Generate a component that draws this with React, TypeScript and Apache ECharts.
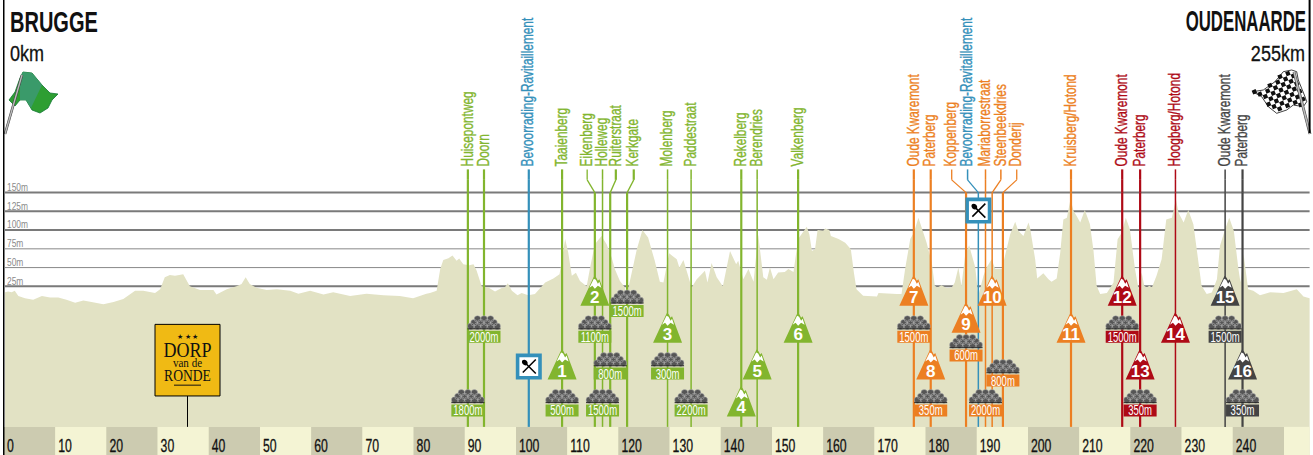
import { useEffect, useRef } from 'react';
import * as echarts from 'echarts';

const SANS = '"Liberation Sans",Arial,sans-serif';
const SERIF = '"Liberation Serif",serif';

// course profile: [km, metres]
const elevationProfile: [number, number][] = [
  [0.2, 17], [0.8, 18], [1.5, 17], [2.1, 19], [2.8, 12], [4.1, 9], [5.7, 7], [7.4, 12], [9, 10], [10.6, 10],
  [12.2, 7], [13.9, 3], [15.5, 6], [17.1, 4], [19.4, 1], [21.4, 4], [23.3, 8], [25.6, 19], [27.2, 19], [29.5, 16],
  [30.5, 21], [31.4, 37], [32.4, 40], [33.4, 39], [35, 41], [36.3, 25], [38.3, 20], [40.9, 20], [41.5, 14], [43.5, 21],
  [45.4, 25], [46.4, 28], [47.2, 37], [48, 28], [49.3, 23], [51.3, 20], [53.3, 21], [55.9, 19], [57.5, 15], [59.8, 19],
  [62.4, 14], [64.3, 17], [67.6, 12], [70.8, 15], [74.1, 13], [77.3, 12], [79.9, 9], [82.5, 15], [83.2, 16], [84.5, 19],
  [85.2, 48], [85.8, 60], [86.8, 62.5], [87.6, 66], [88.4, 59], [88.9, 62], [89.7, 54.5], [90.9, 53], [91.7, 54.5], [92.3, 46],
  [93.3, 25], [94.6, 23.5], [95.9, 18], [97.2, 22.6], [97.8, 23.5], [98.4, 29], [99.2, 19], [100.3, 13], [101.1, 16], [102.4, 13],
  [103.7, 14.6], [105.7, 30], [107.3, 35.5], [108.5, 41], [109.6, 88], [110.2, 70], [110.9, 39], [111.7, 43], [112.5, 32], [113.8, 25],
  [114.6, 54.5], [115.4, 81], [116.7, 92], [117.7, 81], [118.7, 63], [119.3, 48], [120.3, 32], [121.3, 23.5], [121.6, 12], [122.6, 43],
  [123.6, 74.5], [124.7, 100], [125.8, 90], [127.1, 59], [128.1, 31], [128.8, 30], [129.9, 69], [131.4, 61], [131.9, 50], [132.7, 60],
  [134.3, 23.5], [135.3, 34.6], [136.9, 45.7], [137.4, 30], [138.2, 56], [139.2, 37], [140.4, 25], [141.8, 72], [143, 54.5], [143.4, 59],
  [144.4, 34.6], [145.4, 48], [146.4, 31], [147.3, 94], [148.3, 37], [149, 33.7], [149.6, 50], [150.3, 34.6], [151.2, 43.4], [152.5, 44],
  [153.2, 48], [154.2, 44], [155.1, 88], [156.8, 104.6], [157.3, 94], [157.8, 72], [158.4, 74.5], [158.9, 100], [160, 99], [160.4, 102],
  [161.2, 100], [161.5, 92], [163, 88], [164.3, 83], [165.4, 74.5], [166, 43], [166.5, 21], [167.8, 12.4], [170.5, 11.5], [170.8, 16],
  [174.4, 14.6], [175.3, 14.6], [176, 48], [177, 88], [177.7, 96.6], [178.6, 116.6], [180.2, 83], [181.2, 56.7], [181.8, 25.7], [182.3, 23.5],
  [183.1, 26.6], [184.1, 22.6], [185.1, 23.5], [185.7, 30], [186.4, 50], [187, 25.7], [187.7, 65.6], [188.5, 79.8], [189.7, 50], [190.3, 12.4],
  [191.3, 39], [191.9, 50], [192.9, 61], [193.6, 48], [194.9, 48], [195.5, 65.6], [196.5, 94], [197.5, 111], [198.1, 99], [199.1, 92],
  [200.1, 110], [200.4, 103], [201.4, 61], [201.8, 35.5], [203, 42.5], [204, 34.6], [204.6, 31], [205.6, 35.5], [206.3, 70], [206.9, 114],
  [207.6, 116.6], [208.3, 141], [208.9, 125.4], [209.5, 118.8], [210.2, 110], [211.1, 126.8], [212.1, 107.7], [212.8, 72], [213.4, 25.7], [214.1, 14.6],
  [215.4, 16], [216.7, 30], [217.5, 87.8], [218.3, 96.6], [219.1, 116.6], [219.9, 101], [220.9, 48], [221.6, 21], [222.2, 43.4], [222.7, 25.7],
  [223.2, 23.5], [223.7, 25.7], [224.2, 23.5], [225.1, 39], [226.1, 61], [227, 114], [228.1, 116.6], [228.9, 141], [229.4, 123], [230.4, 110],
  [231.3, 126.8], [232.3, 107.7], [233, 72], [233.9, 25.7], [234.9, 14.6], [235.9, 16.8], [236.9, 34.6], [237.5, 79], [238.5, 101], [239.3, 116.6],
  [240.2, 99], [241.1, 48], [241.5, 30], [242.1, 68], [243, 21], [244, 19], [245.3, 13], [247.3, 17], [249.9, 16], [252.5, 21],
  [253.8, 11.5], [255, 9],
];

const gridThick = [25, 100, 125, 150];
const gridThin = [50, 75];
const bandStarts = [0, 10, 20, 30, 40, 50, 60, 70, 80, 90, 100, 110, 120, 130, 140, 150, 160, 170, 180, 190, 200, 210, 220, 230, 240, 250];
const tickLabels = ['0', '10', '20', '30', '40', '50', '60', '70', '80', '90', '100', '110', '120', '130', '140', '150', '160', '170', '180', '190', '200', '210', '220', '230', '240'];

// sectors with their vertical line and rotated name
const routeNames = [
  'Huisepontweg', 'Doorn', 'Bevoorrading-Ravitaillement', 'Taaienberg', 'Eikenberg', 'Holleweg', 'Ruiterstraat', 'Kerkgate',
  'Molenberg', 'Paddestraat', 'Rekelberg', 'Berendries', 'Valkenberg', 'Oude Kwaremont', 'Paterberg', 'Koppenberg',
  'Bevoorrading-Ravitaillement', 'Mariaborrestraat', 'Steenbeekdries', 'Donderij', 'Kruisberg/Hotond', 'Oude Kwaremont', 'Paterberg',
  'Hoogberg/Hotond', 'Oude Kwaremont', 'Paterberg',
];
const routeKm = [
  90.6, 93.75, 102.5, 109, 115.4, 116.9, 118.4, 121.7, 129.6, 134.2, 144, 147.1, 155.1, 177.7, 181, 187.9, 190.3, 191.7, 193, 195.1,
  208.4, 218.4, 221.9, 228.8, 238.5, 241.9,
];
const routeLabelKm = [
  90.6, 93.75, 102.5, 109, 113.9, 116.9, 119.5, 123, 129.6, 134.2, 144, 147.1, 155.1, 177.7, 181, 185.1, 188.2, 191.7, 194.7, 197.8,
  208.4, 218.4, 221.9, 228.8, 238.5, 241.9,
];
const routeGroup = [
  'green', 'green', 'blue', 'green', 'green', 'green', 'green', 'green', 'green', 'green', 'green', 'green', 'green',
  'orange', 'orange', 'orange', 'blue', 'orange', 'orange', 'orange', 'orange', 'red', 'red', 'red', 'dark', 'dark',
];
const routeThin = [5, 8, 9, 11, 16, 17, 18, 23, 24];
const routeTopThin = [4, 15, 19];

const hillNumbers = [1, 2, 3, 4, 5, 6, 7, 8, 9, 10, 11, 12, 13, 14, 15, 16];
const hillKm = [109, 115.4, 129.6, 144, 147.1, 155.1, 177.7, 181, 187.9, 193, 208.4, 218.4, 221.9, 228.8, 238.5, 241.9];
const hillRow = [3, 1, 2, 4, 3, 2, 1, 3, 1.73, 1, 2, 1, 3, 2, 1, 3];
const hillGroup = [
  'green', 'green', 'green', 'green', 'green', 'green', 'orange', 'orange', 'orange', 'orange', 'orange',
  'red', 'red', 'red', 'dark', 'dark',
];

const cobbleLengths = [
  '1800m', '2000m', '500m', '1100m', '1500m', '800m', '1500m', '300m', '2200m', '1500m', '350m', '600m', '2000m', '800m',
  '1500m', '350m', '1500m', '350m',
];
const cobbleKm = [90.6, 93.75, 109, 115.4, 116.9, 118.4, 121.7, 129.6, 134.2, 177.7, 181, 187.9, 191.7, 195.1, 218.4, 221.9, 238.5, 241.9];
const cobbleRow = [4, 2, 4, 2, 4, 3, 1.3, 3, 4, 2, 4, 2.51, 4, 3.19, 2, 4, 2, 4];
const cobbleGroup = [
  'green', 'green', 'green', 'green', 'green', 'green', 'green', 'green', 'green',
  'orange', 'orange', 'orange', 'orange', 'orange', 'red', 'red', 'dark', 'dark',
];

const feedKm = [102.5, 190.3];
const feedAlt = [-82, 126];
const villageKm = [35.84];

const COLORS: Record<string, string> = {
  green: '#82B52E',
  blue: '#3490BA',
  orange: '#EC7F22',
  red: '#AE0A16',
  dark: '#444444',
};

const ALT_PX = 0.752;
const BASE_M = -162.5; // top of the km bands
const rowToM = (row: number) => -1 - 49.2 * (row - 1);

// cobble heap: rows of overlapping stones
const stone = (x: number, y: number, r = 3.3) =>
  `M${x - r} ${y}A${r} ${r} 0 1 1 ${x + r} ${y}A${r} ${r} 0 1 1 ${x - r} ${y}Z`;
const stones = [
  [-6.5, -9.7], [0, -9.7], [6.5, -9.7],
  [-10, -6], [-3.3, -6], [3.3, -6], [10, -6],
  [-13.2, -2.5], [-6.6, -2.5], [0, -2.5], [6.6, -2.5], [13.2, -2.5],
];
echarts.graphic.registerShape('cobbles', echarts.graphic.extendPath(stones.map(([x, y]) => stone(x, y)).join(''), {}));

// checkered flag
const checkerOutline: [number, number][] = [
  [1291.7, 70], [1296.7, 71.7], [1298.3, 80], [1305, 96.7], [1306.7, 101.7], [1303.3, 106.7], [1293.3, 105], [1286.7, 110],
  [1276.7, 113.3], [1268.3, 106.7], [1261.7, 96.7], [1252.7, 91.7], [1263.3, 90], [1275, 81.7], [1283.3, 71.7],
];
const inside = (x: number, y: number) => {
  let hit = false;
  for (let i = 0, j = checkerOutline.length - 1; i < checkerOutline.length; j = i++) {
    const [xi, yi] = checkerOutline[i];
    const [xj, yj] = checkerOutline[j];
    if (yi > y !== yj > y && x < ((xj - xi) * (y - yi)) / (yj - yi) + xi) hit = !hit;
  }
  return hit;
};
let checkerPath = '';
for (let a = -12; a < 14; a++) {
  for (let b = -12; b < 14; b += 2) {
    const i = b + (a & 1);
    const cx = 1281 + i * 3.9 + a * 1.6;
    const cy = 90 + a * 3.9 - i * 1.6;
    if (inside(cx, cy)) {
      checkerPath += `M${cx - 2.75} ${cy - 1.15}L${cx + 1.15} ${cy - 2.75}L${cx + 2.75} ${cy + 1.15}L${cx - 1.15} ${cy + 2.75}Z`;
    }
  }
}
echarts.graphic.registerShape('checks', echarts.graphic.extendPath(checkerPath, {}));

const text = (content: string, x: number, y: number, size: number, fill: string, extra: any = {}) => ({
  type: 'text',
  x,
  y,
  scaleX: extra.scaleX ?? 1,
  rotation: extra.rotation ?? 0,
  style: {
    text: content,
    fill,
    stroke: extra.heavy ? fill : undefined,
    lineWidth: extra.heavy ?? 0,
    fontSize: size,
    fontFamily: extra.family ?? SANS,
    fontWeight: extra.weight ?? 'normal',
    align: extra.align ?? 'center',
    verticalAlign: 'middle',
  },
});

const line = (x1: number, y1: number, x2: number, y2: number, stroke: string, lineWidth: number) => ({
  type: 'line',
  shape: { x1, y1, x2, y2 },
  style: { stroke, lineWidth },
});

const customSeries = (z: number, data: number[][], renderItem: any) => ({
  type: 'custom',
  z,
  silent: true,
  data,
  renderItem,
});

const hiddenAxis = { splitLine: { show: false }, axisLine: { show: false }, axisTick: { show: false }, axisLabel: { show: false } };

const buildOption = () => ({
  animation: false,
  grid: { left: 4, top: 5.2, width: 1305.6, height: 600 * ALT_PX },
  xAxis: { type: 'value', min: 0, max: 255, interval: 10, ...hiddenAxis },
  yAxis: { type: 'value', min: -200, max: 400, interval: 25, ...hiddenAxis },
  series: [
    // altitude grid, thick and thin
    customSeries(1, gridThick.map((v) => [0, v]), (_: any, api: any) => {
      const a = api.coord([0.2, api.value(1)]);
      const b = api.coord([255, api.value(1)]);
      return {
        type: 'group',
        children: [
          line(a[0], a[1], b[0], b[1], '#7A7A7A', 2),
          text(`${api.value(1)}m`, a[0] + 2, a[1] - 5, 10, '#8A8A8A', { align: 'left', scaleX: 0.84 }),
        ],
      };
    }),
    customSeries(1, gridThin.map((v) => [0, v]), (_: any, api: any) => {
      const a = api.coord([0.2, api.value(1)]);
      const b = api.coord([255, api.value(1)]);
      return {
        type: 'group',
        children: [
          line(a[0], a[1], b[0], b[1], '#888888', 1),
          text(`${api.value(1)}m`, a[0] + 2, a[1] - 5, 10, '#8A8A8A', { align: 'left', scaleX: 0.84 }),
        ],
      };
    }),
    {
      type: 'line',
      z: 2,
      silent: true,
      showSymbol: false,
      data: elevationProfile,
      lineStyle: { width: 0 },
      areaStyle: { color: '#E2E2C4', opacity: 1, origin: 'start' },
    },
    // km bands with their labels
    customSeries(3, bandStarts.map((k) => [k, BASE_M]), (params: any, api: any) => {
      const k = api.value(0);
      const a = api.coord([k, BASE_M]);
      const b = api.coord([Math.min(k + 10, 255), -200]);
      const label = tickLabels[params.dataIndex];
      const band = {
        type: 'rect',
        shape: { x: a[0], y: a[1], width: b[0] - a[0], height: b[1] - a[1] },
        style: { fill: params.dataIndex % 2 ? '#F4F4D4' : '#CCCBB0' },
      };
      return {
        type: 'group',
        children: label ? [band, text(label, a[0] + 3, a[1] + 19, 18, '#111', { align: 'left', scaleX: 0.68, heavy: 0.3 })] : [band],
      };
    }),
    // sector lines and names
    customSeries(4, routeKm.map((k) => [k, BASE_M]), (params: any, api: any) => {
      const i = params.dataIndex;
      const c = COLORS[routeGroup[i]];
      const w = routeThin.includes(i) ? 1.5 : 2.2;
      const low = api.coord([routeKm[i], BASE_M]);
      const elbowLow = api.coord([routeKm[i], 150]);
      const elbowHigh = api.coord([routeLabelKm[i], 167]);
      const top = api.coord([routeLabelKm[i], 181]);
      const label = api.coord([routeLabelKm[i], 185]);
      return {
        type: 'group',
        children: [
          line(low[0], low[1], elbowLow[0], elbowLow[1], c, w),
          line(elbowLow[0], elbowLow[1], elbowHigh[0], elbowHigh[1], c, routeLabelKm[i] === routeKm[i] ? w : 1.3),
          line(elbowHigh[0], elbowHigh[1], top[0], top[1], c, routeTopThin.includes(i) ? 1.3 : w),
          text(routeNames[i], label[0] - 1, label[1], 16, c, { align: 'left', rotation: Math.PI / 2, scaleX: 0.74, heavy: 0.35 }),
        ],
      };
    }),
    // cobbled sectors
    customSeries(5, cobbleKm.map((k, i) => [k, rowToM(cobbleRow[i])]), (params: any, api: any) => {
      const i = params.dataIndex;
      const c = COLORS[cobbleGroup[i]];
      const p = api.coord([cobbleKm[i], rowToM(cobbleRow[i])]);
      return {
        type: 'group',
        x: p[0],
        y: p[1],
        children: [
          { type: 'polygon', shape: { points: [[-16.5, -14], [16.5, -14], [11, -19], [-11, -19]] }, style: { fill: '#333' } },
          { type: 'cobbles', x: 0, y: -14, style: { fill: '#555', stroke: '#BBB', lineWidth: 0.5 } },
          line(-16.5, -13.8, 16.5, -13.8, '#111', 0.8),
          { type: 'rect', shape: { x: -16.5, y: -12, width: 33, height: 12 }, style: { fill: c } },
          text(cobbleLengths[i], 0, -5.7, 14, '#FFF', { scaleX: 0.68 }),
        ],
      };
    }),
    // hills
    customSeries(6, hillKm.map((k, i) => [k, rowToM(hillRow[i])]), (params: any, api: any) => {
      const i = params.dataIndex;
      const p = api.coord([hillKm[i], rowToM(hillRow[i])]);
      return {
        type: 'group',
        x: p[0],
        y: p[1],
        children: [
          {
            type: 'polygon',
            shape: { points: [[-14.5, 0], [-2, -27], [-0.5, -30], [1.5, -28], [3, -25], [4.5, -26.5], [14.5, 0]] },
            style: { fill: COLORS[hillGroup[i]] },
          },
          {
            type: 'polygon',
            shape: { points: [[-5.5, -18], [-1, -27], [1, -26], [3, -22], [4.5, -24], [6.5, -18], [3, -20], [0, -17], [-2.5, -20]] },
            style: { fill: '#FFF' },
          },
          text(String(hillNumbers[i]), 0, -8.5, 17, '#FFF', { weight: 'bold' }),
        ],
      };
    }),
    // feed zones
    customSeries(7, feedKm.map((k, i) => [k, feedAlt[i]]), (params: any, api: any) => {
      const i = params.dataIndex;
      const p = api.coord([feedKm[i], feedAlt[i]]);
      return {
        type: 'group',
        x: p[0],
        y: p[1],
        children: [
          { type: 'rect', shape: { x: -11.2, y: -11.2, width: 22.4, height: 22.4 }, style: { fill: '#FFF', stroke: COLORS.blue, lineWidth: 3.6 } },
          line(7, -7, -6, 6, '#000', 1.5),
          line(-3, -3, 7, 7, '#000', 1.5),
          { type: 'ellipse', shape: { cx: -4, cy: -4, rx: 3.2, ry: 2.5 }, rotation: -Math.PI / 4, originX: -4, originY: -4, style: { fill: '#000' } },
        ],
      };
    }),
    // Dorp van de Ronde sign
    customSeries(8, villageKm.map((k) => [k, BASE_M]), (_: any, api: any) => {
      const foot = api.coord([api.value(0), BASE_M]);
      const mid = api.coord([api.value(0), -73.5]);
      return {
        type: 'group',
        children: [
          line(foot[0], foot[1], foot[0], mid[1] + 35.5, '#000', 1),
          {
            type: 'group',
            x: foot[0],
            y: mid[1],
            children: [
              { type: 'rect', shape: { x: -32.5, y: -35.8, width: 65, height: 71.6 }, style: { fill: '#F0BA14', stroke: '#000', lineWidth: 1 } },
              text('★ ★ ★', 0, -23.5, 7, '#111', { family: SERIF }),
              text('DORP', 0, -11, 22, '#111', { family: SERIF, scaleX: 0.82 }),
              text('van de', 0, 2.3, 13, '#111', { family: SERIF, scaleX: 0.85 }),
              text('RONDE', 0, 15, 16, '#111', { family: SERIF, scaleX: 0.85 }),
              line(-13.5, 25, 13.5, 25, '#111', 1),
            ],
          },
        ],
      };
    }),
  ],
  graphic: [
    { type: 'rect', shape: { x: 3, y: 0, width: 1.5, height: 455 }, style: { fill: '#000' }, z: 20 },
    { type: 'rect', shape: { x: 1308.6, y: 0, width: 2, height: 133 }, style: { fill: '#000' }, z: 20 },
    text('BRUGGE', 10, 21, 30, '#111', { align: 'left', weight: 'bold', scaleX: 0.667 }),
    text('0km', 10, 53.5, 22, '#111', { align: 'left', scaleX: 0.82, heavy: 0.3 }),
    text('OUDENAARDE', 1306, 21, 30, '#111', { align: 'right', weight: 'bold', scaleX: 0.56 }),
    text('255km', 1305, 53.5, 22, '#111', { align: 'right', scaleX: 0.82, heavy: 0.3 }),
    // start flag
    {
      type: 'polygon',
      shape: { points: [[23, 72], [32, 73], [42, 85], [50, 93], [58, 94], [52, 100], [48, 108], [40, 113], [32, 110], [26, 100], [20, 100], [15, 106], [9, 100], [15, 92], [20, 78]] },
      style: { fill: '#2E9E32', stroke: '#173', lineWidth: 0.8 },
    },
    {
      type: 'polygon',
      shape: { points: [[23, 72], [32, 73], [42, 85], [31, 108], [26, 100], [20, 100], [20, 78]] },
      style: { fill: '#3A9A6A' },
    },
    { type: 'line', shape: { x1: 22, y1: 75, x2: 5, y2: 134 }, style: { stroke: '#444', lineWidth: 2.6 } },
    { type: 'line', shape: { x1: 22, y1: 75, x2: 5, y2: 134 }, style: { stroke: '#BBB', lineWidth: 1.4 } },
    // finish flag
    { type: 'polygon', shape: { points: checkerOutline }, style: { fill: '#FFF', stroke: '#111', lineWidth: 0.8 } },
    { type: 'checks', style: { fill: '#111' } },
    { type: 'line', shape: { x1: 1294, y1: 72, x2: 1310, y2: 134 }, style: { stroke: '#444', lineWidth: 2.8 } },
    { type: 'line', shape: { x1: 1294, y1: 72, x2: 1310, y2: 134 }, style: { stroke: '#BBB', lineWidth: 1.6 } },
  ],
});

export default function App() {
  const chartEl = useRef<HTMLDivElement>(null);

  useEffect(() => {
    document.body.style.margin = '0';
    document.documentElement.style.overflow = 'hidden';
    if (!chartEl.current) return;
    const chart = echarts.init(chartEl.current, undefined, { renderer: 'svg' });
    chart.setOption(buildOption() as any);
    return () => chart.dispose();
  }, []);

  return <div ref={chartEl} style={{ width: 1313, height: 455, background: '#fff' }} />;
}
